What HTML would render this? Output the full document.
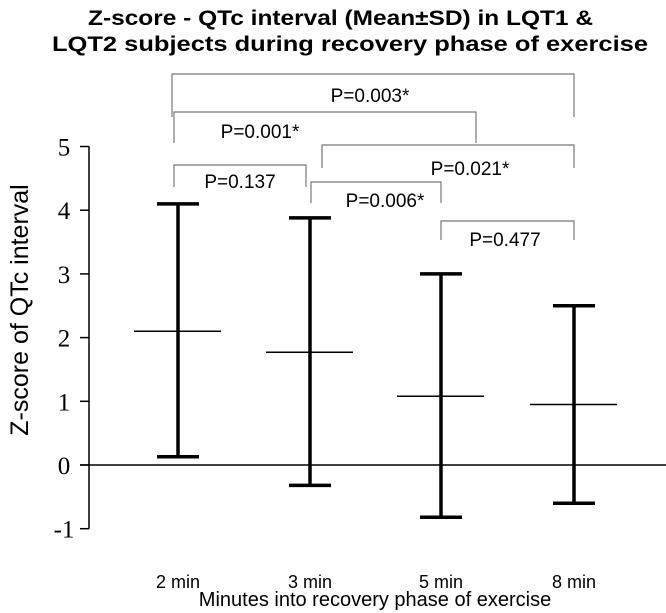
<!DOCTYPE html>
<html><head><meta charset="utf-8"><style>
body{margin:0;background:#fff}
svg{display:block;font-family:"Liberation Sans",sans-serif}
</style></head><body>
<svg id="c" width="666" height="613">
<text x="88" y="25" font-size="21" font-weight="bold" textLength="505" lengthAdjust="spacingAndGlyphs">Z-score - QTc interval (Mean±SD) in LQT1 &amp;</text>
<text x="52" y="51" font-size="21" font-weight="bold" textLength="596" lengthAdjust="spacingAndGlyphs">LQT2 subjects during recovery phase of exercise</text>
<text transform="translate(28,310) rotate(-90)" text-anchor="middle" font-size="25">Z-score of QTc interval</text>
<text x="375" y="606" text-anchor="middle" font-size="20">Minutes into recovery phase of exercise</text>
<g id="axes"></g><g id="marks"></g><g id="brackets"></g>
</svg>
<script>
const categories=["2 min","3 min","5 min","8 min"];
const means=[2.1,1.77,1.08,0.95];
const upper=[4.1,3.88,3.0,2.5];
const lower=[0.13,-0.32,-0.82,-0.6];
const yTicks=[5,4,3,2,1,0,-1];
const pLabels=["P=0.003*","P=0.001*","P=0.137","P=0.021*","P=0.006*","P=0.477"];
const ns="http://www.w3.org/2000/svg";
const catX=[178,310,441,574];
function xPos(i){return catX[i];}
function yPos(v){return 465-v*63.7;}
function mk(tag,attrs,parent,text){const e=document.createElementNS(ns,tag);for(const k in attrs)e.setAttribute(k,attrs[k]);if(text!=null)e.textContent=text;document.getElementById(parent).appendChild(e);return e;}
let e;
e=mk("line",{x1:89,x2:89,y1:yPos(5),y2:yPos(-1),stroke:"#000","stroke-width":1.5},"axes");


e=mk("line",{x1:80,x2:666,y1:yPos(0),y2:yPos(0),stroke:"#000","stroke-width":1.5},"axes");


yTicks.forEach(t=>{
 e=mk("line",{x1:80,x2:89,y1:yPos(t),y2:yPos(t),stroke:"#000","stroke-width":1.5},"axes");
 
 
 e=mk("text",{x:64,y:yPos(t)+9,"text-anchor":"middle","font-size":25,"font-family":"Liberation Serif, serif"},"axes",t);
 
 
});
categories.forEach((c,i)=>{
 const x=xPos(i);
 e=mk("text",{x:x,y:588,"text-anchor":"middle","font-size":18},"axes",c);
 
 
 e=mk("line",{x1:x,x2:x,y1:yPos(upper[i]),y2:yPos(lower[i]),stroke:"#000","stroke-width":3.5},"marks");
 
 
 [upper[i],lower[i]].forEach(v=>{
  e=mk("line",{x1:x-21,x2:x+21,y1:yPos(v),y2:yPos(v),stroke:"#000","stroke-width":3.5},"marks");
  
  
 });
 e=mk("line",{x1:x-44,x2:x+43,y1:yPos(means[i]),y2:yPos(means[i]),stroke:"#000","stroke-width":1.5},"marks");
 
 
});
const br=[[172,574,74,117,117,370,102],[174,476,112,143,143,260,138],[174,306,165,187,187,240,188],[322,574,145,168,168,470,175],[311,441,182,203,203,385,207],[441,574,221,240,240,505,246]];
br.forEach((b,i)=>{
 e=mk("polyline",{points:`${b[0]},${b[3]} ${b[0]},${b[2]} ${b[1]},${b[2]} ${b[1]},${b[4]}`,fill:"none",stroke:"#777","stroke-width":1.2},"brackets");
 
 
 e=mk("text",{x:b[5],y:b[6],"text-anchor":"middle","font-size":19},"brackets",pLabels[i]);
 
 
});
</script>
</body></html>
